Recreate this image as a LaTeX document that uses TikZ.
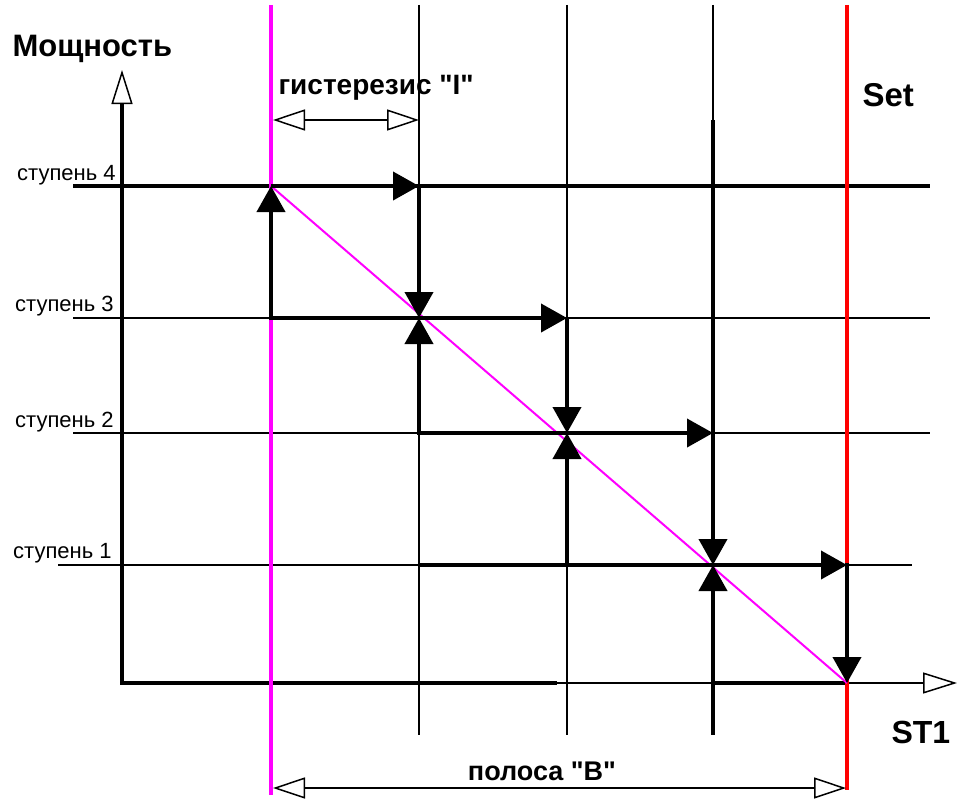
\documentclass[tikz,border=0pt]{standalone}
\usepackage{fontspec}
\setmainfont{Liberation Sans}[Ligatures=TeXOff]
\usetikzlibrary{arrows.meta}
\definecolor{bandpink}{RGB}{255,0,255}
\definecolor{setred}{RGB}{255,0,0}

\begin{document}
\begin{tikzpicture}[x=1pt,y=-1pt,
    thinline/.style={line width=1.5pt},
    thickline/.style={line width=4pt},
    steparrow/.style={line width=4pt,-{Triangle[length=26pt,width=28pt]}},
    openarrow/.style={line width=1.5pt,-{Triangle[open,length=34pt,width=21pt]}},
    dimarrow/.style={line width=1.5pt,{Triangle[open,length=32pt,width=21pt]}-{Triangle[open,length=32pt,width=21pt]}},
    steplabel/.style={anchor=west,inner sep=0pt,font=\fontsize{22}{24}\selectfont}]
	\useasboundingbox (0,0) rectangle (958,800);
	% grid
	\draw[thinline] (73,318) -- (930,318);
	\draw[thinline] (73,433) -- (930,433);
	\draw[thinline] (58,565) -- (912,565);
	\draw[thinline] (419,5) -- (419,735);
	\draw[thinline] (567,5) -- (567,735);
	\draw[thinline] (713,5) -- (713,120);
	\draw[thickline] (713,683) -- (713,735);
	\draw[thickline] (73,186) -- (930,186);
	% axes
	\draw[thickline] (122,683) -- (122,104);
	\draw[openarrow] (122,110) -- (122,70);
	\draw[thickline] (120,683) -- (557,683);
	\draw[openarrow] (557,683) -- (957,683);
	\draw[thickline] (713,683) -- (849,683);
	% band limits
	\draw[line width=4pt,bandpink] (271,5) -- (271,795);
	\draw[line width=4pt,setred] (847,5) -- (847,790);
	\draw[line width=2pt,bandpink] (271,186) -- (847,683);
	% switching steps
	\draw[steparrow] (271,320) -- (271,186);
	\draw[steparrow] (271,186) -- (419,186);
	\draw[steparrow] (419,186) -- (419,318);
	\draw[steparrow] (419,433) -- (419,318);
	\draw[steparrow] (269,318) -- (567,318);
	\draw[steparrow] (567,318) -- (567,433);
	\draw[steparrow] (567,565) -- (567,433);
	\draw[steparrow] (417,433) -- (713,433);
	\draw[steparrow] (713,120) -- (713,565);
	\draw[steparrow] (713,683) -- (713,565);
	\draw[steparrow] (419,565) -- (847,565);
	\draw[steparrow] (847,563) -- (847,683);
	% widths
	\draw[dimarrow] (273,120) -- (419,120);
	\draw[dimarrow] (273,788) -- (846,788);
	% labels
	\node[anchor=west,font=\bfseries\fontsize{31}{34}\selectfont] (power) at (9,49) {Мощность};
	\node[anchor=west,font=\bfseries\fontsize{28}{30}\selectfont] (hyst) at (275,88) {гистерезис "I"};
	\node[anchor=west,font=\bfseries\fontsize{33}{36}\selectfont] (set) at (859,95) {Set};
	\node[anchor=west,font=\bfseries\fontsize{32}{36}\selectfont] (st) at (888,732) {ST1};
	\node[font=\bfseries\fontsize{27}{30}\selectfont] (band) at (542,771) {полоса "B"};
	\node[steplabel] (s4) at (17,175) {ступень 4};
	\node[steplabel] (s3) at (15,306) {ступень 3};
	\node[steplabel] (s2) at (15,422) {ступень 2};
	\node[steplabel] (s1) at (13,553) {ступень 1};
\end{tikzpicture}
\end{document}
